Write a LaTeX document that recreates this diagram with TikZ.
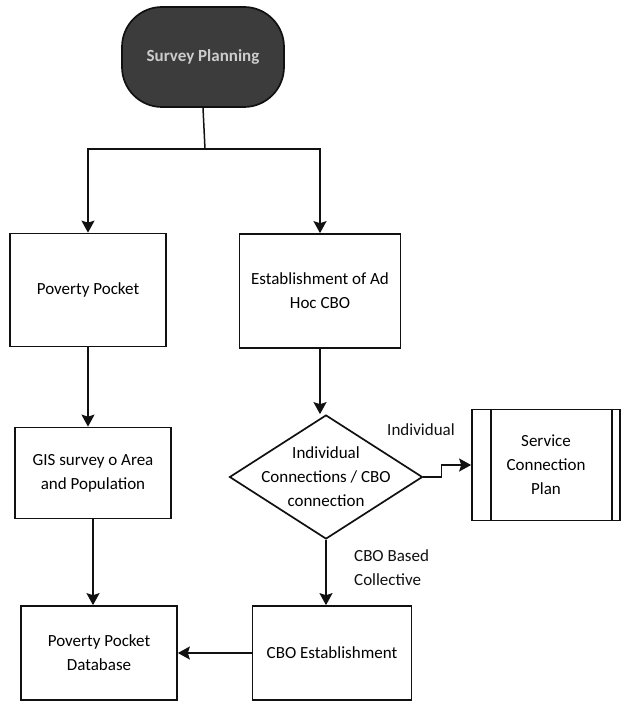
\documentclass[tikz,border=0pt]{standalone}
\usepackage{fontspec}
\setmainfont{Carlito}
\usetikzlibrary{arrows.meta, shapes.geometric, calc}
\definecolor{cink}{HTML}{111111}
\definecolor{cshade}{HTML}{3C3C3C}
\tikzset{
  every picture/.style={line width=1.7pt},
  box/.style={draw=cink, align=center, font=\fontsize{17}{24}\selectfont, inner sep=3pt},
  startbox/.style={draw=cink, fill=cshade, rounded corners=40pt, text=white!80!black, font=\fontsize{17}{24}\selectfont\bfseries},
  decision/.style={draw=cink, diamond, aspect=1.6, inner sep=-14pt, align=center, font=\fontsize{17}{24}\selectfont},
  arrow/.style={-{Stealth[length=12pt, width=13pt, inset=2pt]}, draw=cink, line width=1.5pt},
  note/.style={font=\fontsize{17}{24}\selectfont, align=left, text=cink},
}

\begin{document}
\begin{tikzpicture}[x=1pt, y=-1pt]
  \useasboundingbox (0,0) rectangle (622,703);
  \node[startbox, minimum width=162pt, minimum height=100pt] (survey) at (203,57) {Survey Planning};
  \coordinate (split) at (205,149);

  % left column
  \node[box, minimum width=156pt, minimum height=113pt] (pocket) at (88,290) {Poverty Pocket};
  \node[box, minimum width=156pt, minimum height=91pt] (gis) at (93,473) {GIS survey o Area\\ and Population};
  \node[box, minimum width=156pt, minimum height=94pt] (db) at (99,653) {Poverty Pocket\\ Database};

  % right column
  \node[box, minimum width=161pt, minimum height=114pt] (adhoc) at (320,291) {Establishment of Ad\\ Hoc CBO};
  \node[decision, minimum width=193pt, minimum height=124pt] (choice) at (326,477) {Individual\\ Connections / CBO\\ connection};
  \node[box, minimum width=159pt, minimum height=94pt] (cbo) at (332,653) {CBO Establishment};

  % service plan, drawn as a predefined process
  \node[box, minimum width=148pt, minimum height=111pt] (plan) at (546,465) {Service\\ Connection\\ Plan};
  \draw[cink] ($(plan.north west)+(20,0)$) -- ($(plan.south west)+(20,0)$);
  \draw[cink] ($(plan.north east)+(-9,0)$) -- ($(plan.south east)+(-9,0)$);

  \draw[cink, line width=1.5pt] (survey.south) -- (split);
  \draw[arrow] (split) -| (pocket.north);
  \draw[arrow] (split) -| (adhoc.north);
  \draw[arrow] (pocket.south) -- (pocket.south |- gis.north);
  \draw[arrow] (gis.south) -- (gis.south |- db.north);
  \draw[arrow] (adhoc.south) -- (adhoc.south |- choice.north);
  \draw[arrow] (choice.south) -- (choice.south |- cbo.north);
  \draw[arrow] (cbo) -- (db);
  \draw[arrow] (choice.east) -- ++(18,0) |- (plan.west);

  \node[note] (indiv) at (421,430) {Individual};
  \node[note, anchor=west] (collective) at (350,568) {CBO Based\\ Collective};
\end{tikzpicture}
\end{document}
